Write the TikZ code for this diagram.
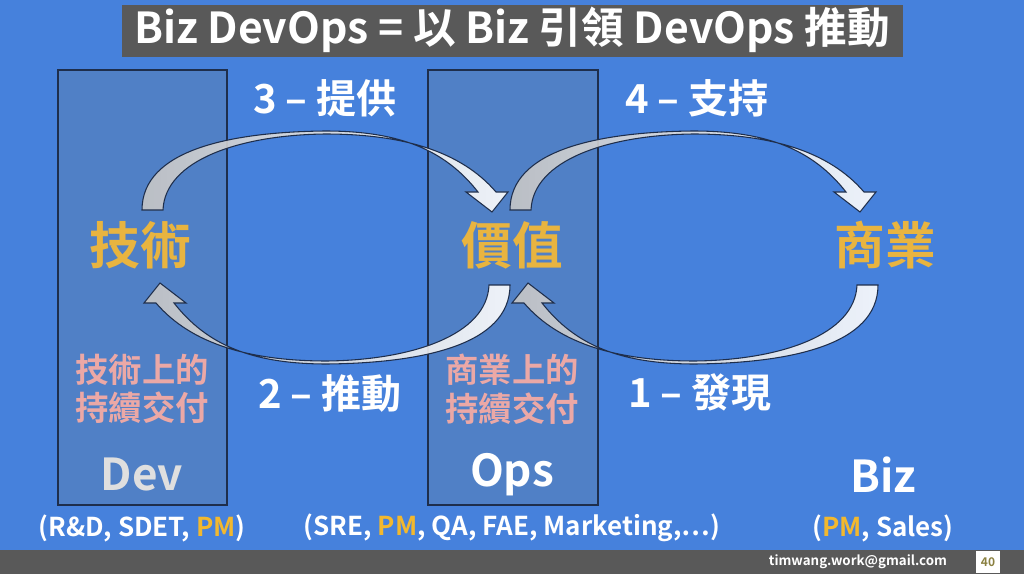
\documentclass[tikz,border=0pt]{standalone}
\usepackage{fontspec}
\setmainfont{Noto Sans CJK TC}[BoldFont={Noto Sans CJK TC Bold}]
\definecolor{bgblue}{HTML}{4681DC}
\definecolor{colblue}{HTML}{5080C6}
\definecolor{edgedark}{HTML}{1E2E4C}
\definecolor{titlegray}{HTML}{595959}
\definecolor{gold}{HTML}{E8B440}
\definecolor{pinkish}{HTML}{EBA8A6}
\definecolor{pmyellow}{HTML}{F2B82E}
\definecolor{olive}{HTML}{8A8040}
\tikzset{
  column/.style={draw=edgedark,line width=1pt,fill=colblue},
  bend arrow/.style={draw=edgedark,line width=0.8pt,left color=gray!45,right color=white,fill opacity=0.9},
  key/.style={font=\bfseries\fontsize{38}{38}\selectfont,text=gold},
  step label/.style={font=\bfseries\fontsize{30}{30}\selectfont,text=white},
  role/.style={font=\bfseries\fontsize{25}{29}\selectfont,text=pinkish,align=center},
  team/.style={font=\bfseries\fontsize{33}{33}\selectfont,text=white},
  members/.style={font=\bfseries\fontsize{19.5}{19.5}\selectfont,text=white}
}
\newcommand{\pmtext}{\textcolor{pmyellow}{PM}}
% one curved block arrow, tail at left, head at right
\newcommand{\bendarrow}{%
\path[bend arrow]
(142,210) .. controls (142,150) and (230,132) .. (325,131)
 .. controls (400,131) and (445,150) .. (478,192)
 -- (466,192) -- (492,212) -- (508,192) -- (496,192)
 .. controls (460,150) and (400,134) .. (325,134)
 .. controls (240,135) and (165,160) .. (163,210) -- cycle;}

\begin{document}
\begin{tikzpicture}[x=0.75pt,y=-0.75pt]
\useasboundingbox (0,0) rectangle (1024,574);
\fill[bgblue] (0,0) rectangle (1024,574);

% title and footer
\fill[titlegray] (122,5) rectangle (903,57);
\node[font=\bfseries\fontsize{32}{32}\selectfont,text=white] (title) at (512,30)
  {Biz DevOps = 以 Biz 引領 DevOps 推動};
\fill[titlegray] (0,550) rectangle (1024,574);
\fill[white] (976,551) rectangle (1000,573);
\node[font=\bfseries\fontsize{10}{10}\selectfont,text=white] (mail) at (858,562) {timwang.work@gmail.com};
\node[font=\bfseries\fontsize{9}{9}\selectfont,text=olive] (page) at (988,562) {40};

% columns
\path[column] (58,70) rectangle (227,505);
\path[column] (428,70) rectangle (598,505);

% arrows
\bendarrow
\begin{scope}[shift={(368,0)}]\bendarrow\end{scope}
\begin{scope}[shift={(1020,495)},rotate=180]\bendarrow\end{scope}
\begin{scope}[shift={(652,495)},rotate=180]\bendarrow\end{scope}

% key words
\node[key] (tech) at (140,245) {技術};
\node[key] (value) at (512,245) {價值};
\node[key] (biz) at (885,245) {商業};

\node[step label] (provide) at (325,98) {3 – 提供};
\node[step label] (support) at (697,98) {4 – 支持};
\node[step label] (drive) at (330,393) {2 – 推動};
\node[step label] (find) at (700,393) {1 – 發現};

\node[role] (techrole) at (142,389) {技術上的\\持續交付};
\node[role] (bizrole) at (512,389) {商業上的\\持續交付};

\node[team,text=gray!25] (dev) at (142,475) {Dev};
\node[team] (ops) at (512,475) {Ops};
\node[team] (bizteam) at (883,475) {Biz};

\node[members] (devmem) at (142,528) {(R\&D, SDET, \pmtext)};
\node[members] (opsmem) at (512,528) {(SRE, \pmtext, QA, FAE, Marketing,⋯)};
\node[members] (bizmem) at (883,528) {(\pmtext, Sales)};
\end{tikzpicture}
\end{document}
